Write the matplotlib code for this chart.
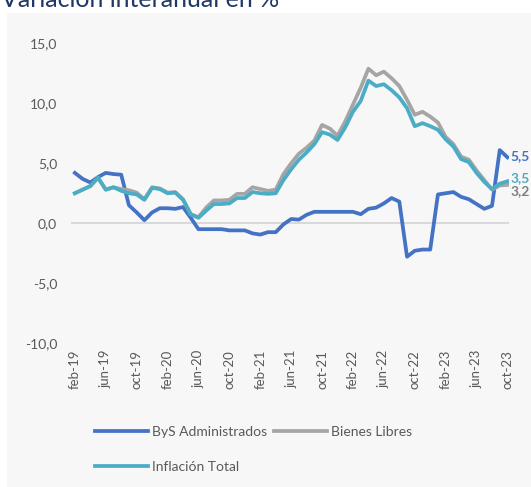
import matplotlib
matplotlib.use("Agg")
import matplotlib.pyplot as plt
from matplotlib.patches import Rectangle

plt.rcParams['font.family'] = ['Lato', 'DejaVu Sans']

# meses feb-19 ... oct-23, etiqueta cada 4 meses
tick_labels = ['feb-19', 'jun-19', 'oct-19', 'feb-20', 'jun-20', 'oct-20', 'feb-21',
               'jun-21', 'oct-21', 'feb-22', 'jun-22', 'oct-22', 'feb-23', 'jun-23', 'oct-23']

bys_adm = [4.2, 3.7, 3.4, 3.85, 4.2, 4.1, 4.05, 1.5, 0.9, 0.25,
           0.9, 1.25, 1.25, 1.2, 1.35, 0.45, -0.5, -0.5, -0.5, -0.5,
           -0.6, -0.6, -0.6, -0.85, -0.95, -0.75, -0.75, -0.1, 0.35, 0.3,
           0.7, 0.95, 0.95, 0.95, 0.95, 0.95, 0.95, 0.75, 1.2, 1.3,
           1.65, 2.1, 1.8, -2.8, -2.3, -2.2, -2.2, 2.4, 2.5, 2.6,
           2.2, 2.0, 1.6, 1.2, 1.45, 6.1, 5.5]

bienes_libres = [2.5, 2.8, 3.1, 3.8, 2.8, 3.0, 2.85, 2.75, 2.55, 2.0,
                 3.0, 2.9, 2.55, 2.6, 2.0, 0.75, 0.5, 1.3, 1.9, 1.9,
                 1.95, 2.45, 2.45, 3.0, 2.85, 2.7, 2.8, 4.1, 5.0, 5.8,
                 6.3, 6.9, 8.2, 7.9, 7.3, 8.5, 9.9, 11.3, 12.9, 12.35,
                 12.65, 12.1, 11.45, 10.3, 9.05, 9.3, 8.9, 8.4, 7.2, 6.6,
                 5.55, 5.3, 4.4, 3.6, 2.8, 3.15, 3.2]

inflacion_total = [2.5, 2.8, 3.1, 3.8, 2.8, 3.0, 2.7, 2.5, 2.4, 1.95,
                   2.95, 2.85, 2.5, 2.55, 1.95, 0.75, 0.45, 1.05, 1.6, 1.6,
                   1.65, 2.1, 2.1, 2.6, 2.5, 2.45, 2.5, 3.6, 4.5, 5.3,
                   5.9, 6.6, 7.6, 7.4, 6.95, 8.0, 9.3, 10.2, 11.9, 11.45,
                   11.6, 11.1, 10.5, 9.6, 8.1, 8.35, 8.1, 7.8, 7.0, 6.4,
                   5.35, 5.1, 4.2, 3.45, 2.85, 3.3, 3.5]

c_bys = '#4472C4'
c_lib = '#A5A5A5'
c_tot = '#4BACC6'

W, H = 531, 487
fig = plt.figure(figsize=(W / 100, H / 100), dpi=100)
# fondo gris del area del grafico
fig.patches.append(Rectangle((7 / W, 0), 1, 1 - 13 / H, transform=fig.transFigure,
                             facecolor='#F7F7F7', edgecolor='none', zorder=-5))

ax = fig.add_axes([71 / W, 1 - 343 / H, (509 - 71) / W, (343 - 43.5) / H])
ax.set_facecolor('none')
ax.set_zorder(2)

x = list(range(len(bys_adm)))
l1, = ax.plot(x, bys_adm, color=c_bys, lw=2.7, label='ByS Administrados', zorder=3)
l2, = ax.plot(x, bienes_libres, color=c_lib, lw=2.7, label='Bienes Libres', zorder=3)
l3, = ax.plot(x, inflacion_total, color=c_tot, lw=2.7, label='Inflación Total', zorder=3)
ax.axhline(0, color='#D9D9D9', lw=1.4, zorder=1)

ax.set_xlim(-0.5, 56.2)
ax.set_ylim(-10, 15)
ax.set_yticks([-10, -5, 0, 5, 10, 15])
ax.set_yticklabels(['-10,0', '-5,0', '0,0', '5,0', '10,0', '15,0'])
ax.set_xticks(range(0, 57, 4))
ax.set_xticklabels(tick_labels, rotation=90)
ax.tick_params(axis='y', length=0, pad=10, labelsize=10, labelcolor='#595959')
ax.tick_params(axis='x', length=0, pad=5, labelsize=9.5, labelcolor='#595959')
for s in ax.spines.values():
    s.set_visible(False)

# etiquetas del ultimo dato
ax.annotate('5,5', (56, bys_adm[-1]), xytext=(3, 1), textcoords='offset pixels',
            color=c_bys, fontsize=10, fontweight='bold', va='center', ha='left',
            annotation_clip=False)
ax.annotate('3,5', (56, inflacion_total[-1]), xytext=(3, 3), textcoords='offset pixels',
            color=c_tot, fontsize=10, fontweight='bold', va='center', ha='left',
            annotation_clip=False)
ax.annotate('3,2', (56, bienes_libres[-1]), xytext=(3, -6), textcoords='offset pixels',
            color='#7F7F7F', fontsize=10, fontweight='bold', va='center', ha='left',
            annotation_clip=False)

fig.text(0.002, 1 - 7 / H, 'Variación interanual en %', fontsize=18,
         color='#1F3864', ha='left', va='baseline')

fig.legend([l1, l3, l2], ['ByS Administrados', 'Inflación Total', 'Bienes Libres'],
           ncol=2, loc='upper left', bbox_to_anchor=(95 / W, 1 - 426 / H),
           frameon=False, fontsize=10, handlelength=3.8, handletextpad=0.3,
           columnspacing=0.5, labelspacing=1.65, borderpad=0, borderaxespad=0,
           labelcolor='#595959')

fig.savefig('out.png', dpi=100)
